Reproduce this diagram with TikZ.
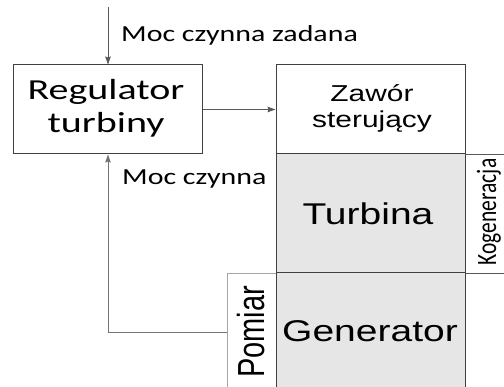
\documentclass[tikz,border=0pt]{standalone}
\usepackage{graphicx}
\usepackage{fontspec}
\setmainfont{Liberation Sans}
\newfontfamily\calibf{Carlito}
\newfontfamily\arialf{Liberation Sans}
\usetikzlibrary{arrows.meta}
\newcommand\hsx[1]{\scalebox{1.3}[1]{#1}}
\newcommand\hsxr[1]{\scalebox{1.38}[1]{#1}}
\definecolor{boxc}{HTML}{404040}
\definecolor{fillc}{HTML}{E6E6E6}
\definecolor{lightc}{HTML}{A6A6A6}
\definecolor{linec}{HTML}{595959}
\begin{document}
\begin{tikzpicture}[x=1pt,y=-1pt,
  box/.style={draw=boxc,line width=1pt,rectangle,inner sep=0pt},
  graybox/.style={box,fill=fillc},
  sidebox/.style={draw=linec,line width=0.9pt,rectangle,inner sep=0pt,fill=white},
  pombox/.style={draw=lightc,line width=0.9pt,rectangle,inner sep=0pt,fill=white},
  calt/.style={inner sep=0pt,font=\calibf\fontsize{29}{34}\selectfont},
  lab/.style={inner sep=0pt,font=\calibf\fontsize{23}{28}\selectfont},
  art/.style={inner sep=0pt,font=\arialf\fontsize{30}{36}\selectfont},
  arts/.style={inner sep=0pt,font=\arialf\fontsize{23}{28}\selectfont},
  arr/.style={draw=linec,line width=0.8pt,-{Stealth[length=8pt,width=5.5pt,inset=1pt]}},
  feed/.style={draw=lightc!70!black,line width=0.9pt}
]
\clip (0,0) rectangle (504,387);
\fill[white] (0,0) rectangle (504,387);

% boxes
\node[pombox,minimum width=49pt,minimum height=150pt] (pomb) at (251.5,348) {};
\node[box,minimum width=189pt,minimum height=89pt] (reg) at (107.5,109.5) {};
\node[box,minimum width=189.5pt,minimum height=89pt] (valve) at (370.75,109.5) {};
\node[sidebox,minimum width=65pt,minimum height=119pt] (kogb) at (497.5,213.5) {};
\node[graybox,minimum width=189.5pt,minimum height=119pt] (turb) at (370.75,213.5) {};
\node[graybox,minimum width=189.5pt,minimum height=150pt] (gen) at (370.75,348) {};

% texts
\node[calt,anchor=base] (regt1) at (106,100) {\hsxr{Regulator}};
\node[calt,anchor=base] (regt2) at (106,133) {\hsxr{turbiny}};
\node[arts,anchor=base] (valt1) at (372,102) {\hsx{Zawór}};
\node[arts,anchor=base] (valt2) at (372,128) {\hsx{sterujący}};
\node[art,anchor=base] (turbt) at (368,225) {\hsx{Turbina}};
\node[art,anchor=base] (gent) at (370,342) {\hsx{Generator}};
\node[lab,anchor=base west] (zad) at (121,42) {\hsx{Moc czynna zadana}};
\node[lab,anchor=base west] (moc) at (122,185) {\hsx{Moc czynna}};
\node[inner sep=0pt,font=\arialf\fontsize{29}{34}\selectfont] (pomt) at (251,332) {\hsx{\rotatebox{90}{Pomiar}}};
\node[inner sep=0pt,font=\calibf\fontsize{21.5}{26}\selectfont] (kogt) at (489,212) {\hsx{\rotatebox{90}{Kogeneracja}}};

% connectors
\coordinate (inp) at (108,7);
\coordinate (fb) at (108,332);
\draw[arr] (inp) -- (inp |- reg.north);
\draw[arr] (reg.east) -- (valve.west);
\draw[feed] (pomb.west |- fb) -- (fb);
\draw[arr,draw=lightc!70!black] (fb) -- (fb |- reg.south);
\end{tikzpicture}
\end{document}
